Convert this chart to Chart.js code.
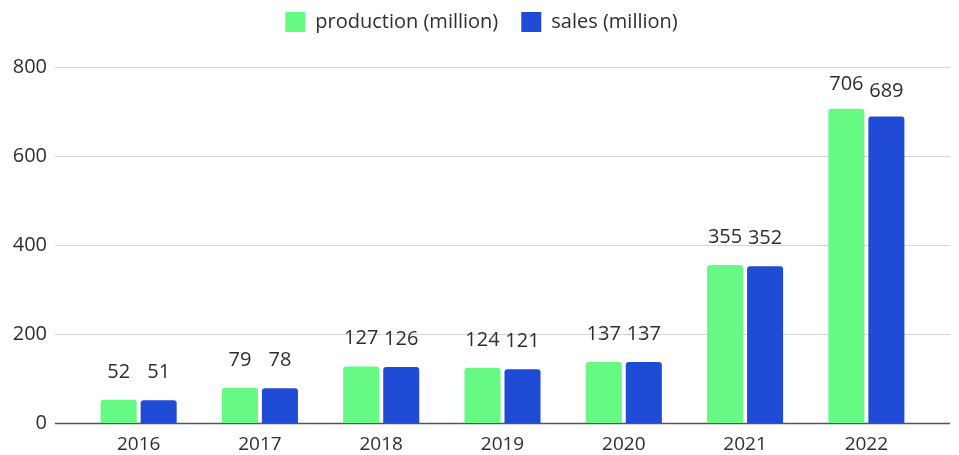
<!DOCTYPE html>
<html><head><meta charset="utf-8">
<script src="https://cdn.jsdelivr.net/npm/chart.js@4"></script>
<style>html,body{margin:0;padding:0;background:#fff}#wrap{width:959px;height:455px}</style>
</head><body><div id="wrap"><canvas id="c"></canvas></div>
<script>
const categories = ['2016','2017','2018','2019','2020','2021','2022'];
const production = [52,79,127,124,137,355,706];
const sales = [51,78,126,121,137,352,689];
const yTicks = [0,200,400,600,800];
const FONT = '"Open Sans"';
const FS = 20;
const TXT = '#2e2e2e';

const gridPlugin = {
  id:'gridPlugin',
  beforeDatasetsDraw(chart){
    const {ctx, scales:{y}} = chart;
    ctx.save();
    yTicks.forEach(v=>{
      const py = Math.round(y.getPixelForValue(v))+0.5;
      ctx.beginPath();
      ctx.moveTo(55, py); ctx.lineTo(950, py);
      ctx.strokeStyle = v===0 ? '#555' : '#d6d6d6';
      ctx.lineWidth = v===0 ? 1.5 : 1.2;
      ctx.stroke();
    });
    ctx.restore();
  }
};
const labelPlugin = {
  id:'labelPlugin',
  afterDatasetsDraw(chart){
    const {ctx} = chart;
    ctx.save();
    ctx.font = FS + 'px ' + FONT;
    ctx.fillStyle = TXT;
    ctx.textAlign = 'center';
    ctx.textBaseline = 'middle';
    chart.data.datasets.forEach((ds,i)=>{
      chart.getDatasetMeta(i).data.forEach((bar,j)=>{
        const dy = ds.data[j] > 600 ? 25 : 28;
        ctx.fillText(String(ds.data[j]), bar.x, bar.y - dy);
      });
    });
    ctx.restore();
  }
};
const legendGap = {
  id:'legendGap',
  beforeInit(chart){
    chart.legend.fit = (function(orig){ return function(){ orig.call(this); this.height = 67; }; })(chart.legend.fit);
  },
  afterLayout(chart){
    const L = chart.legend;
    L.top -= 11; L.bottom -= 11; L.left += 18; L.right += 18;
  }
};
function noPad(s){ s.paddingTop = 0; s.paddingBottom = 0; }

new Chart(document.getElementById('c'), {
  type:'bar',
  data:{
    labels: categories,
    datasets:[
      {label:'production (million)', data: production, backgroundColor:'#66f984', borderRadius:3, borderSkipped:'bottom'},
      {label:'sales (million)', data: sales, backgroundColor:'#1f4bd6', borderRadius:3, borderSkipped:'bottom'}
    ]
  },
  options:{
    responsive:true, maintainAspectRatio:false, animation:false,
    layout:{padding:{left:0, right:32, top:0, bottom:0}},
    datasets:{bar:{categoryPercentage:0.66, barPercentage:0.9}},
    plugins:{
      legend:{position:'top', labels:{boxWidth:20, boxHeight:20, font:{family:'Open Sans', size:FS}, color:TXT, padding:23}},
      tooltip:{enabled:false}
    },
    scales:{
      x:{grid:{display:false, drawTicks:false}, border:{display:false},
         afterFit(s){ s.height = 32; noPad(s); },
         ticks:{font:{family:'Open Sans', size:19}, color:TXT, padding:10}},
      y:{min:0, max:800, grid:{display:false, drawTicks:false}, border:{display:false},
         afterBuildTicks(s){ s.ticks = yTicks.map(v=>({value:v})); },
         afterFit(s){ s.width = 78; noPad(s); },
         ticks:{font:{family:'Open Sans', size:FS}, color:TXT, padding:31}}
    }
  },
  plugins:[legendGap, gridPlugin, labelPlugin]
});
</script></body></html>
